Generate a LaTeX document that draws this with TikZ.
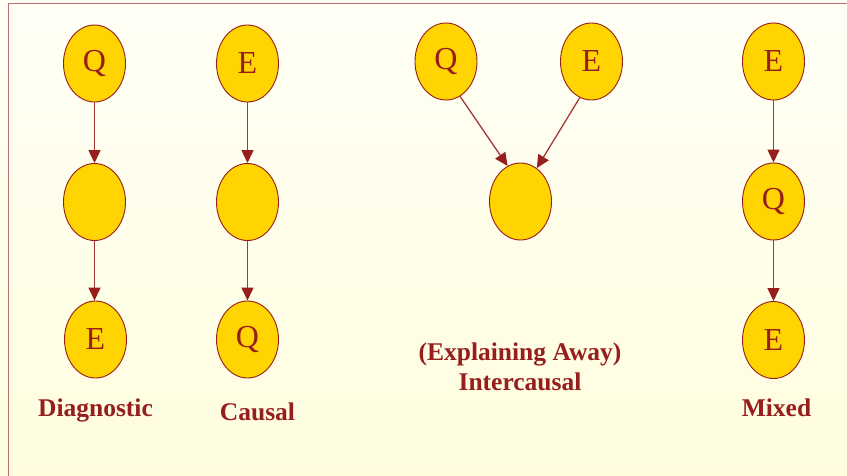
\documentclass[tikz,border=0pt]{standalone}
\usepackage{fontspec}
\setmainfont{Liberation Serif}
\usetikzlibrary{shapes.geometric,arrows.meta}
\definecolor{bgtop}{RGB}{255,255,246}
\definecolor{bgbot}{RGB}{255,253,222}
\definecolor{frame}{RGB}{184,110,106}
\definecolor{ink}{RGB}{150,30,28}
\definecolor{gold}{RGB}{255,212,0}
\tikzset{
  var/.style={ellipse, draw=ink, line width=0.9pt, fill=gold, minimum width=62pt, minimum height=77pt, inner sep=0pt, text=ink, font=\fontsize{32}{36}\selectfont},
  link/.style={draw=ink!88!white, line width=1.3pt, -{Triangle[length=13pt,width=12pt,color=ink,fill=ink]}},
  lbl/.style={text=ink, font=\fontsize{25.5}{30}\selectfont\bfseries, anchor=base, inner sep=0pt, align=center}
}
\begin{document}
\begin{tikzpicture}[x=1pt,y=-1pt]
\useasboundingbox (0,0) rectangle (847,475);
\shade[top color=bgtop, bottom color=bgbot] (0,0) rectangle (847,475);
\draw[frame, line width=1.5pt] (8.5,476) -- (8.5,3.5) -- (848,3.5);
% Diagnostic
\node[var] (q1) at (94.5,63.5) {Q};
\node[var] (m1) at (94.5,202) {};
\node[var] (e1) at (95.5,339.5) {E};
\draw[link] (q1) -- (m1);
\draw[link] (m1.south) -- (m1.south |- e1.north);
\node[lbl] (l1) at (95.5,416.5) {Diagnostic};
% Causal
\node[var] (e2) at (247.5,63.5) {E};
\node[var] (m2) at (247.5,202) {};
\node[var] (q2) at (247.5,339.5) {Q};
\draw[link] (e2) -- (m2);
\draw[link] (m2) -- (q2);
\node[lbl] (l2) at (257.5,420) {Causal};
% Intercausal
\node[var] (q3) at (446,61.5) {Q};
\node[var] (e3) at (591.5,61.5) {E};
\node[var] (m3) at (520.5,201.5) {};
\draw[link] (q3.-68) -- (m3.110);
\draw[link] (e3.-108) -- (m3.64);
\node[lbl] (l3) at (520,360) {(Explaining Away)};
\node[lbl] (l4) at (520,390) {Intercausal};
% Mixed
\node[var] (e4) at (773.5,61.5) {E};
\node[var] (q4) at (773.5,201.5) {Q};
\node[var] (e5) at (773.5,340) {E};
\draw[link] (e4) -- (q4);
\draw[link] (q4) -- (e5);
\node[lbl] (l5) at (776.5,416.5) {Mixed};
\end{tikzpicture}
\end{document}
